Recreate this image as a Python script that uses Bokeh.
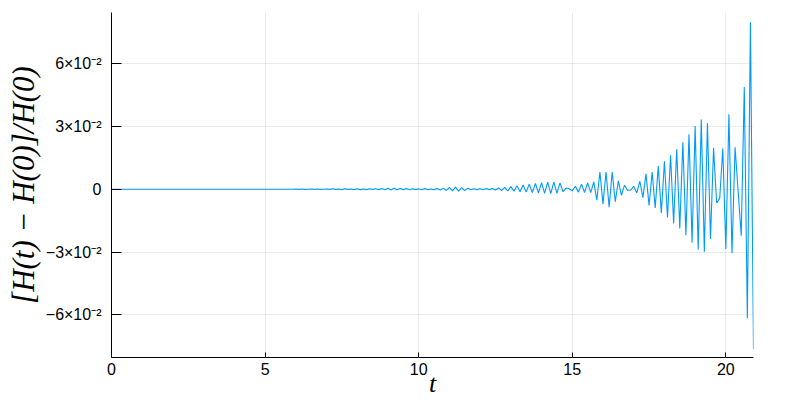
from bokeh.plotting import figure
from bokeh.models import Range1d, FixedTicker
from bokeh.embed import file_html
from bokeh.resources import INLINE

# ---- data ----
# time grid: step 0.1 from 0 to 20.9
t = [round(0.1 * i, 1) for i in range(210)]

# relative energy error [H(t) - H(0)] / H(0)
rel_err = [
    0.0, 0.0, 0.0, 0.0, 0.0, 0.0, 0.0, 0.0, 0.0, 0.0,
    0.0, 0.0, 0.0, 0.0, 0.0, 0.0, 0.0, 0.0, 0.0, 0.0,
    0.0, 0.0, 0.0, 0.0, 0.0, 0.0, 0.0, 0.0, 0.0, 0.0,
    0.0, 0.0, 0.0, 0.0, 0.0, 0.0, 0.0, 0.0, 0.0, 0.0,
    0.0, 0.0, 0.0, 0.0, 0.0, 0.0, 0.0, 0.0, 0.0, 0.0,
    0.0, 0.0, 0.0, 0.0, 0.0, 0.0, 0.0, 0.0, 0.0, 0.0,
    0.0001, -0.0001, 0.0001, -0.0001, 0.0, 0.0001, -0.0001, 0.0001, -0.0001, 0.0,
    0.0001, -0.0001, 0.0002, -0.0001, 0.0001, -0.0002, 0.0002, -0.0001, 0.0001, -0.0002,
    0.0002, -0.0002, 0.0001, -0.0002, 0.0002, -0.0001, 0.0002, -0.0002, 0.0003, -0.0003,
    0.0004, -0.0004, 0.0005, -0.0003, 0.0003, -0.0002, 0.0003, -0.0003, 0.0002, -0.0002,
    0.0002, -0.0003, 0.0003, -0.0002, 0.0001, -0.0002, 0.0003, -0.0004, 0.0005, -0.0006,
    0.0009, -0.0008, 0.0010, -0.0009, 0.0008, -0.0007, 0.0005, -0.0003, 0.0002, -0.0002,
    0.0002, -0.0003, 0.0003, -0.0002, 0.0003, -0.0004, 0.0006, -0.0007, 0.0009, -0.0008,
    0.0012, -0.0010, 0.0016, -0.0012, 0.0020, -0.0014, 0.0024, -0.0016, 0.0028, -0.0018,
    0.0031, -0.0020, 0.0034, -0.0021, 0.0035, -0.0020, 0.0030, -0.0012, 0.0006, 0.0002,
    -0.0008, 0.0014, -0.0014, 0.0024, -0.0016, 0.0030, -0.0016, 0.0035, -0.0052, 0.0082,
    -0.0071, 0.0082, -0.0086, 0.0082, -0.0060, 0.0040, -0.0029, 0.0019, -0.0005, -0.0005,
    0.0014, -0.0018, 0.0038, -0.0040, 0.0073, -0.0078, 0.0082, -0.0089, 0.0110, -0.0113,
    0.0133, -0.0135, 0.0162, -0.0163, 0.0190, -0.0187, 0.0224, -0.0220, 0.0262, -0.0256,
    0.0302, -0.0288, 0.0333, -0.0298, 0.0315, -0.0238, 0.0198, -0.0066, -0.0044, 0.0194,
    -0.0286, 0.0357, -0.0306, 0.0200, -0.0010, -0.0222, 0.0487, -0.0616, 0.0797, -0.0765,
]

x_ticks = [0, 5, 10, 15, 20]
y_ticks = [-0.06, -0.03, 0, 0.03, 0.06]
y_tick_labels = ["\u22126\u00d710\u207b\u00b2", "\u22123\u00d710\u207b\u00b2", "0",
                 "3\u00d710\u207b\u00b2", "6\u00d710\u207b\u00b2"]
x_label = "t"
y_label = "[H(t) \u2212 H(0)]/H(0)"

# ---- figure ----
p = figure(width=800, height=400, output_backend="svg", toolbar_location=None,
           x_range=Range1d(0.0, 20.9), y_range=Range1d(-0.0803, 0.0843),
           min_border_left=111, min_border_right=47,
           min_border_top=12, min_border_bottom=43)
p.outline_line_color = None
p.background_fill_color = "white"
p.border_fill_color = "white"

p.line(t, rel_err, line_color="#009AFA", line_width=1.1)

for ax, ticks in ((p.xaxis, x_ticks), (p.yaxis, y_ticks)):
    ax.ticker = FixedTicker(ticks=ticks)
    ax.axis_line_color = "black"
    ax.axis_line_width = 1
    ax.major_tick_line_color = "black"
    ax.major_tick_out = 0
    ax.minor_tick_line_color = None
    ax.major_label_text_font = "Liberation Sans"
    ax.major_label_text_font_size = "16px"
    ax.major_label_text_color = "black"
    ax.axis_label_text_font = "Liberation Serif"
    ax.axis_label_text_font_style = "italic"
    ax.axis_label_text_color = "black"

p.xaxis.major_tick_in = 5
p.yaxis.major_tick_in = 10
p.xaxis.major_label_standoff = 5
p.yaxis.major_label_standoff = 10
p.yaxis.major_label_overrides = {k: v for k, v in zip(y_ticks, y_tick_labels)}

p.xaxis.axis_label = x_label
p.xaxis.axis_label_text_font_size = "26px"
p.xaxis.axis_label_standoff = -9
p.yaxis.axis_label = y_label
p.yaxis.axis_label_text_font_size = "31px"
p.yaxis.axis_label_standoff = 2

p.xgrid.ticker = FixedTicker(ticks=x_ticks)
p.ygrid.ticker = FixedTicker(ticks=y_ticks)
for g in (p.xgrid, p.ygrid):
    g.grid_line_color = "black"
    g.grid_line_alpha = 0.08
    g.grid_line_width = 1

open("out.html", "w").write(file_html(p, INLINE))
